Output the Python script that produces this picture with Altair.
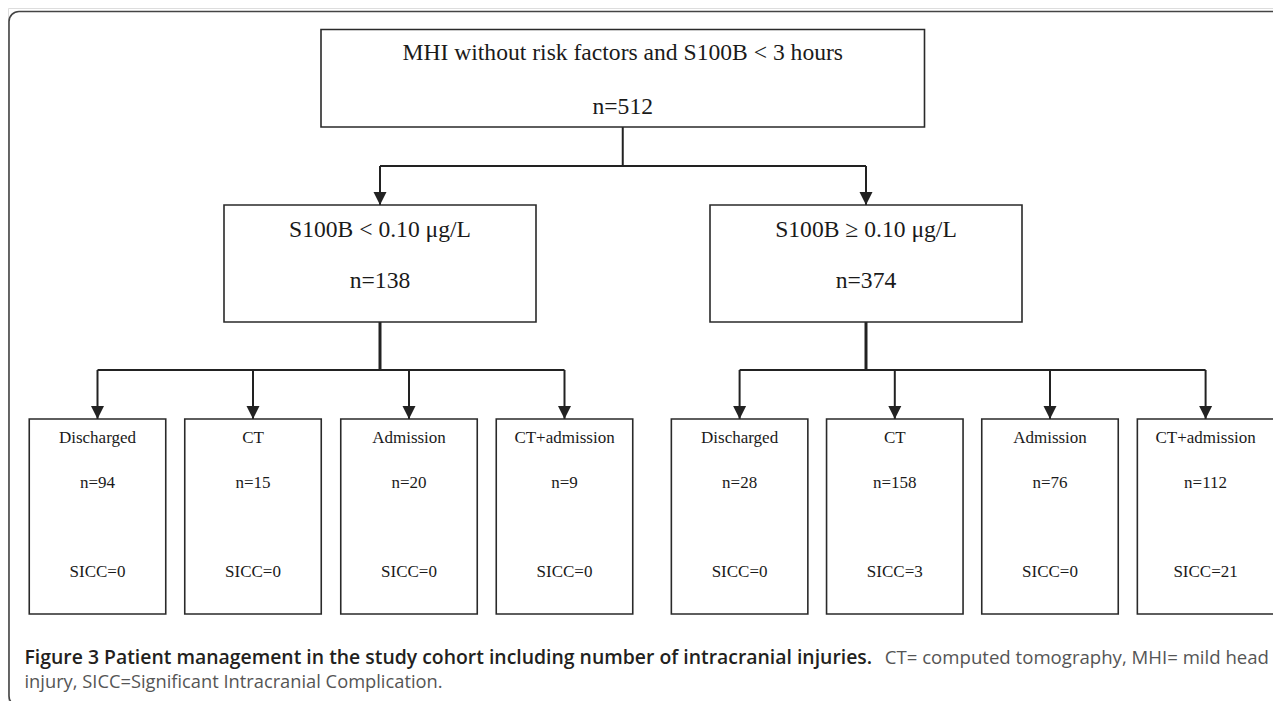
import altair as alt
import pandas as pd

# ---------------- data ----------------
top_label = ["MHI without risk factors and S100B < 3 hours"]
top_n = [512]
mid_labels = ["S100B < 0.10 \u03bcg/L", "S100B \u2265 0.10 \u03bcg/L"]
mid_n = [138, 374]
leaf_labels = ["Discharged", "CT", "Admission", "CT+admission"]
leaf_n_low = [94, 15, 20, 9]
leaf_n_high = [28, 158, 76, 112]
leaf_sicc_low = [0, 0, 0, 0]
leaf_sicc_high = [0, 3, 0, 21]
caption_bold = "Figure 3 Patient management in the study cohort including number of intracranial injuries."
caption_reg1 = "CT= computed tomography, MHI= mild head"
caption_reg2 = "injury, SICC=Significant Intracranial Complication."

# ---------------- layout (page pixels) ----------------
OFF = 8
W, H = 1265, 693
top_box = dict(x=321, x2=924.5, y=29.5, y2=127)
top_cx = (top_box["x"] + top_box["x2"]) / 2
split1_y = 166
mid_y, mid_y2 = 205, 322
mid_w = 312
mid_cx = [380, 866]
split2_y = 370
leaf_y, leaf_y2 = 419, 614
leaf_w = 136.5
leaf_cx = [[97.5, 253, 409, 564.5], [739.6, 894.8, 1050, 1205.6]]
top_text_y = [53, 107]
mid_text_y = [230, 281]
leaf_text_y = [438, 483, 572]
cap_y = [658, 683]
cap_x0, cap_x1 = 24.5, 1269

def P(v):
    return v - OFF

boxes, rules, arrows, texts = [], [], [], []

boxes.append(dict(x=P(top_box["x"]), x2=P(top_box["x2"]), y=P(top_box["y"]), y2=P(top_box["y2"])))
texts.append(dict(x=P(top_cx), y=P(top_text_y[0]), t=top_label[0], s=23.6))
texts.append(dict(x=P(top_cx), y=P(top_text_y[1]), t=f"n={top_n[0]}", s=23.6))
rules.append(dict(x=P(top_cx), x2=P(top_cx), y=P(top_box["y2"]), y2=P(split1_y), w=2))
rules.append(dict(x=P(mid_cx[0]), x2=P(mid_cx[1]), y=P(split1_y), y2=P(split1_y), w=2))

sicc = [leaf_sicc_low, leaf_sicc_high]
leafn = [leaf_n_low, leaf_n_high]
for g in range(2):
    cx = mid_cx[g]
    rules.append(dict(x=P(cx), x2=P(cx), y=P(split1_y), y2=P(mid_y), w=2))
    arrows.append(dict(x=P(cx), y=P(mid_y)))
    boxes.append(dict(x=P(cx - mid_w / 2), x2=P(cx + mid_w / 2), y=P(mid_y), y2=P(mid_y2)))
    texts.append(dict(x=P(cx), y=P(mid_text_y[0]), t=mid_labels[g], s=23.6))
    texts.append(dict(x=P(cx), y=P(mid_text_y[1]), t=f"n={mid_n[g]}", s=23.6))
    rules.append(dict(x=P(cx), x2=P(cx), y=P(mid_y2), y2=P(split2_y), w=3))
    lc = leaf_cx[g]
    rules.append(dict(x=P(lc[0]), x2=P(lc[-1]), y=P(split2_y), y2=P(split2_y), w=2))
    for i, c in enumerate(lc):
        rules.append(dict(x=P(c), x2=P(c), y=P(split2_y), y2=P(leaf_y), w=2))
        arrows.append(dict(x=P(c), y=P(leaf_y)))
        boxes.append(dict(x=P(c - leaf_w / 2), x2=P(c + leaf_w / 2), y=P(leaf_y), y2=P(leaf_y2)))
        texts.append(dict(x=P(c), y=P(leaf_text_y[0]), t=leaf_labels[i], s=17))
        texts.append(dict(x=P(c), y=P(leaf_text_y[1]), t=f"n={leafn[g][i]}", s=17))
        texts.append(dict(x=P(c), y=P(leaf_text_y[2]), t=f"SICC={sicc[g][i]}", s=17))

ARROW = 13
for a in arrows:
    a["y"] = a["y"] - ARROW / 2

xs = alt.Scale(domain=[0, W], range=[0, W], nice=False, zero=False)
ys = alt.Scale(domain=[0, H], range=[0, H], nice=False, zero=False)

def X(f="x"):
    return alt.X(f"{f}:Q", scale=xs, axis=None)

def Y(f="y"):
    return alt.Y(f"{f}:Q", scale=ys, axis=None)

frame = alt.Chart(pd.DataFrame([dict(x=P(9), x2=P(1320), y=P(11.5), y2=P(706))])).mark_rect(
    fillOpacity=0, stroke="#444444", strokeWidth=1.6, cornerRadius=10
).encode(x=X(), x2="x2:Q", y=Y(), y2="y2:Q")

rule_layer = alt.Chart(pd.DataFrame(rules)).mark_rule(color="#222222").encode(
    x=X(), x2="x2:Q", y=Y(), y2="y2:Q",
    strokeWidth=alt.StrokeWidth("w:Q", scale=None),
)

box_layer = alt.Chart(pd.DataFrame(boxes)).mark_rect(
    fill="white", stroke="#2a2a2a", strokeWidth=1.6
).encode(x=X(), x2="x2:Q", y=Y(), y2="y2:Q")

arrow_layer = alt.Chart(pd.DataFrame(arrows)).mark_point(
    shape="M-1,-1L1,-1L0,1Z", filled=True, color="#222222", opacity=1, size=ARROW * ARROW
).encode(x=X(), y=Y())

text_layer = alt.Chart(pd.DataFrame(texts)).mark_text(
    font="Liberation Serif", color="#1a1a1a", baseline="middle", align="center"
).encode(x=X(), y=Y(), text="t:N", size=alt.Size("s:Q", scale=None))

cap_df_b = pd.DataFrame([dict(x=P(cap_x0), y=P(cap_y[0]), t=caption_bold)])
cap_df_r1 = pd.DataFrame([dict(x=P(cap_x1), y=P(cap_y[0]), t=caption_reg1)])
cap_df_r2 = pd.DataFrame([dict(x=P(cap_x0), y=P(cap_y[1]), t=caption_reg2)])

cap_b = alt.Chart(cap_df_b).mark_text(
    font="Open Sans", fontWeight=600, fontSize=19.4, color="#231f20", align="left", baseline="middle"
).encode(x=X(), y=Y(), text="t:N")
cap_r1 = alt.Chart(cap_df_r1).mark_text(
    font="Open Sans", fontSize=18.6, color="#555555", align="right", baseline="middle"
).encode(x=X(), y=Y(), text="t:N")
cap_r2 = alt.Chart(cap_df_r2).mark_text(
    font="Open Sans", fontSize=18.3, color="#555555", align="left", baseline="middle"
).encode(x=X(), y=Y(), text="t:N")

chart = alt.layer(
    frame, rule_layer, box_layer, arrow_layer, text_layer, cap_b, cap_r1, cap_r2
).properties(
    width=W, height=H, padding=0, autosize=alt.AutoSizeParams(type="none")
).configure_view(stroke=None).configure(background="white")

chart.save("out.html", embed_options={"renderer": "svg", "actions": False})
